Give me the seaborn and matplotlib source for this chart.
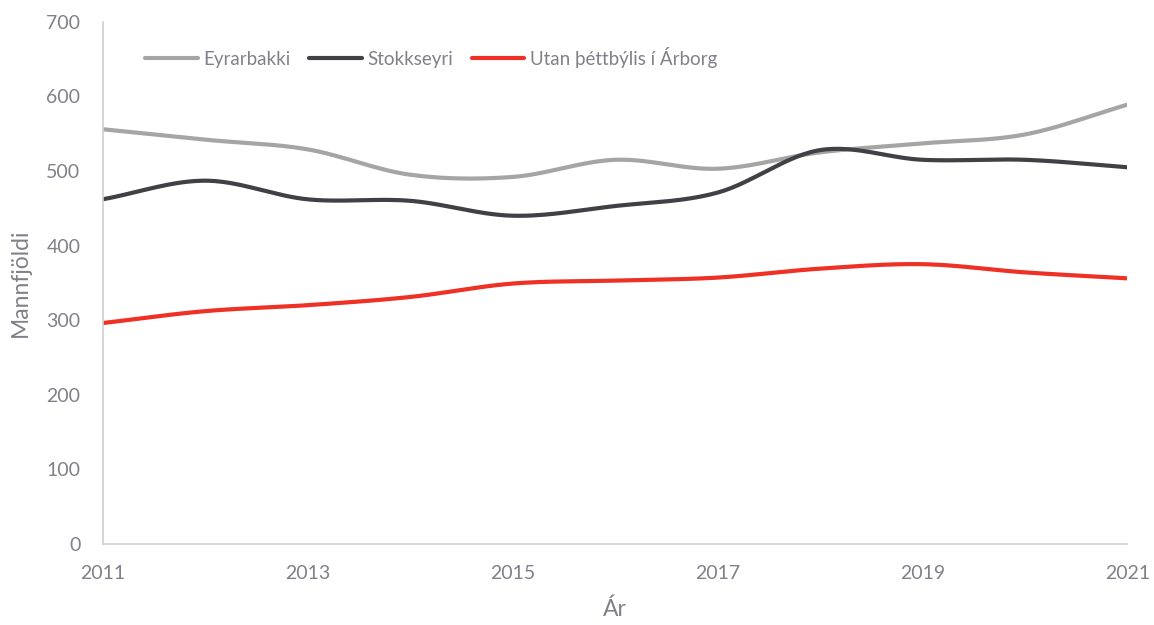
import numpy as np
import pandas as pd
import matplotlib
matplotlib.use("Agg")
import matplotlib.pyplot as plt
import seaborn as sns

years = [2011, 2012, 2013, 2014, 2015, 2016, 2017, 2018, 2019, 2020, 2021]
eyrarbakki = [556, 542, 529, 495, 492, 515, 503, 525, 537, 549, 589]
stokkseyri = [462, 487, 462, 460, 440, 453, 471, 528, 515, 515, 505]
utan = [296, 312, 320, 331, 349, 353, 357, 369, 375, 364, 356]

series_names = ["Eyrarbakki", "Stokkseyri", "Utan þéttbýlis í Árborg"]
colors = ["#A5A5A5", "#404045", "#EE3124"]
text_color = "#80808A"


def smooth(x, y, n=30):
    # Catmull-Rom style smoothing, like Excel's smoothed line
    x = np.asarray(x, float)
    y = np.asarray(y, float)
    px = np.concatenate([[2 * x[0] - x[1]], x, [2 * x[-1] - x[-2]]])
    py = np.concatenate([[2 * y[0] - y[1]], y, [2 * y[-1] - y[-2]]])
    xs, ys = [], []
    t = np.linspace(0, 1, n, endpoint=False)
    for i in range(1, len(px) - 2):
        p0, p1, p2, p3 = py[i - 1], py[i], py[i + 1], py[i + 2]
        q0, q1, q2, q3 = px[i - 1], px[i], px[i + 1], px[i + 2]
        ys.append(0.5 * (2 * p1 + (-p0 + p2) * t + (2 * p0 - 5 * p1 + 4 * p2 - p3) * t**2
                         + (-p0 + 3 * p1 - 3 * p2 + p3) * t**3))
        xs.append(0.5 * (2 * q1 + (-q0 + q2) * t + (2 * q0 - 5 * q1 + 4 * q2 - q3) * t**2
                         + (-q0 + 3 * q1 - 3 * q2 + q3) * t**3))
    xs.append([x[-1]])
    ys.append([y[-1]])
    return np.concatenate(xs), np.concatenate(ys)


frames = []
for name, vals in zip(series_names, [eyrarbakki, stokkseyri, utan]):
    sx, sy = smooth(years, vals)
    frames.append(pd.DataFrame({"year": sx, "value": sy, "series": name}))
df = pd.concat(frames, ignore_index=True)

sns.set_style("white")
plt.rcParams["font.family"] = ["Lato", "DejaVu Sans"]

fig, ax = plt.subplots(figsize=(11.54, 6.25), dpi=100)
fig.subplots_adjust(left=0.089, right=0.977, top=0.965, bottom=0.13)

sns.lineplot(data=df, x="year", y="value", hue="series", hue_order=series_names,
             palette=colors, linewidth=3, sort=False, estimator=None, ax=ax)

ax.set_xlim(2011, 2021)
ax.set_ylim(0, 700)
ax.set_xticks(years[::2])
ax.set_yticks(range(0, 701, 100))
ax.tick_params(axis="both", colors=text_color, labelsize=14, length=0)
ax.tick_params(axis="x", pad=15)
ax.tick_params(axis="y", pad=16)
for side in ["top", "right"]:
    ax.spines[side].set_visible(False)
for side in ["left", "bottom"]:
    ax.spines[side].set_color("#D0D0D0")
    ax.spines[side].set_linewidth(1.2)

ax.set_xlabel("Ár", color=text_color, fontsize=16.5, labelpad=12)
ax.set_ylabel("Mannfjöldi", color=text_color, fontsize=16.5, labelpad=11)

leg = ax.legend(loc="upper left", bbox_to_anchor=(0.025, 0.985), ncol=3, frameon=False,
                fontsize=13.5, handlelength=2.8, handletextpad=0.3, columnspacing=1.0)
for t in leg.get_texts():
    t.set_color(text_color)

fig.savefig("out.png", dpi=100)
